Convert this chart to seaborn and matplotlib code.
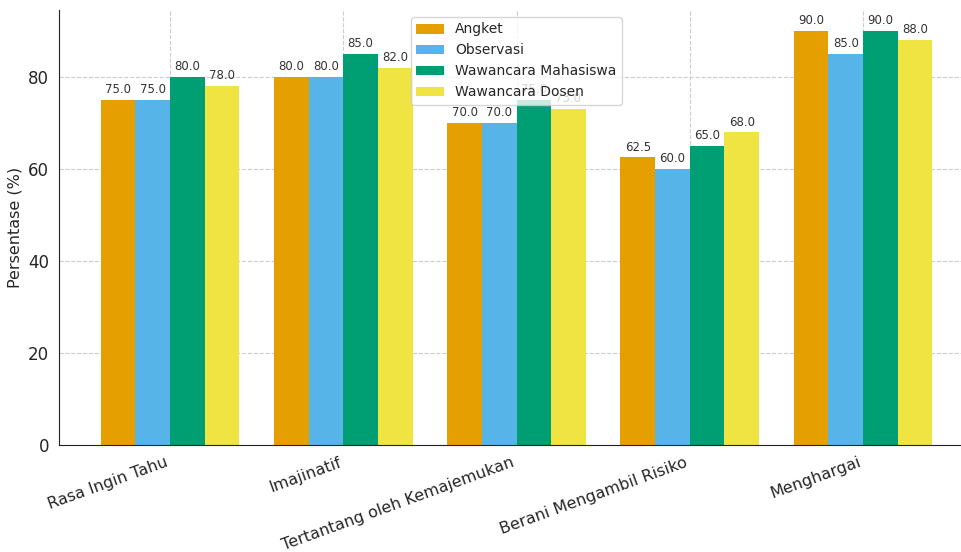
import matplotlib
matplotlib.use("Agg")
import matplotlib.pyplot as plt
import seaborn as sns
import pandas as pd

# Data
categories = ["Rasa Ingin Tahu", "Imajinatif", "Tertantang oleh Kemajemukan",
              "Berani Mengambil Risiko", "Menghargai"]
angket = [75.0, 80.0, 70.0, 62.5, 90.0]
observasi = [75.0, 80.0, 70.0, 60.0, 85.0]
wawancara_mhs = [80.0, 85.0, 75.0, 65.0, 90.0]
wawancara_dosen = [78.0, 82.0, 73.0, 68.0, 88.0]

series = {
    "Angket": angket,
    "Observasi": observasi,
    "Wawancara Mahasiswa": wawancara_mhs,
    "Wawancara Dosen": wawancara_dosen,
}

rows = []
for name, vals in series.items():
    for cat, v in zip(categories, vals):
        rows.append({"Aspek": cat, "Sumber": name, "Persentase": v})
df = pd.DataFrame(rows)

sns.set_style("whitegrid", {"grid.linestyle": "--", "axes.edgecolor": "#222222"})
plt.rcParams['font.family'] = ['DejaVu Sans']

fig = plt.figure(figsize=(9.62, 5.52), dpi=100)
ax = fig.add_axes([59 / 962, 107 / 552, (974 - 59) / 962, 435 / 552])

palette = ["#E69F00", "#56B4E9", "#009E73", "#F0E442"]
sns.barplot(data=df, x="Aspek", y="Persentase", hue="Sumber", palette=palette,
            saturation=1, width=0.8, linewidth=0, ax=ax)

for c in ax.containers:
    ax.bar_label(c, fmt="%.1f", padding=2.5, fontsize=8.5, color="#333333")

ax.set_xlim(-0.64, 4.64)
ax.set_ylim(0, 94.5)
ax.grid(True, linestyle="--", color="#cccccc", linewidth=0.8)
ax.set_axisbelow(True)
sns.despine(ax=ax)
ax.spines["left"].set_color("#222222")
ax.spines["bottom"].set_color("#222222")

ax.set_xlabel("")
ax.set_ylabel("Persentase (%)", fontsize=11.5)
ax.tick_params(axis="y", labelsize=12, length=3.5, color="#222222")
ax.tick_params(axis="x", labelsize=11.5, length=3.5, color="#222222")
plt.setp(ax.get_xticklabels(), rotation=20, ha="right", rotation_mode="default")

ax.legend(loc="upper center", fontsize=10, title=None)

fig.savefig("out.png", dpi=100)
